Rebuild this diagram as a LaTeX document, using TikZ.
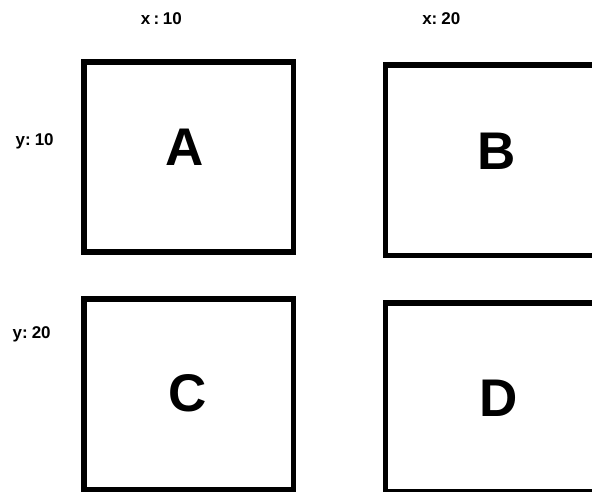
\documentclass[tikz,border=0pt]{standalone}
\usepackage{fontspec}
\setmainfont{Liberation Sans}
\begin{document}
\begin{tikzpicture}[x=1pt,y=-1pt,
  cell/.style={draw=black,line width=5.5pt,inner sep=0pt,outer sep=0pt,minimum width=#1,anchor=north west},
  big/.style={font=\fontsize{53}{60}\selectfont\bfseries,inner sep=0pt,anchor=base},
  axis/.style={font=\fontsize{17}{19}\selectfont\bfseries,inner sep=0pt,anchor=base}]
\useasboundingbox (0,0) rectangle (592,491);
\clip (0,0) rectangle (592,491);
\fill[white] (0,0) rectangle (592,491);
\node[cell=209.5pt,minimum height=190pt] (boxA) at (84,62) {};
\node[cell=320pt,minimum height=190.5pt] (boxB) at (385.5,65) {};
\node[cell=209.5pt,minimum height=190.5pt] (boxC) at (84,299) {};
\node[cell=320pt,minimum height=189pt] (boxD) at (385.5,303) {};
\node[big] (labA) at (184.5,165.7) {A};
\node[big] (labB) at (497,169.3) {B};
\node[big] (labC) at (188,411.8) {C};
\node[big] (labD) at (498.7,416.7) {D};
\node[axis] (x10) at (161.3,24.5) {x\hspace{3.5pt}:\hspace{3.5pt}10};
\node[axis] (x20) at (441.3,24.5) {x:\hspace{4pt}20};
\node[axis] (y10) at (34.7,145.5) {y:\hspace{4pt}10};
\node[axis] (y20) at (31.7,338.5) {y:\hspace{4pt}20};
\end{tikzpicture}
\end{document}
